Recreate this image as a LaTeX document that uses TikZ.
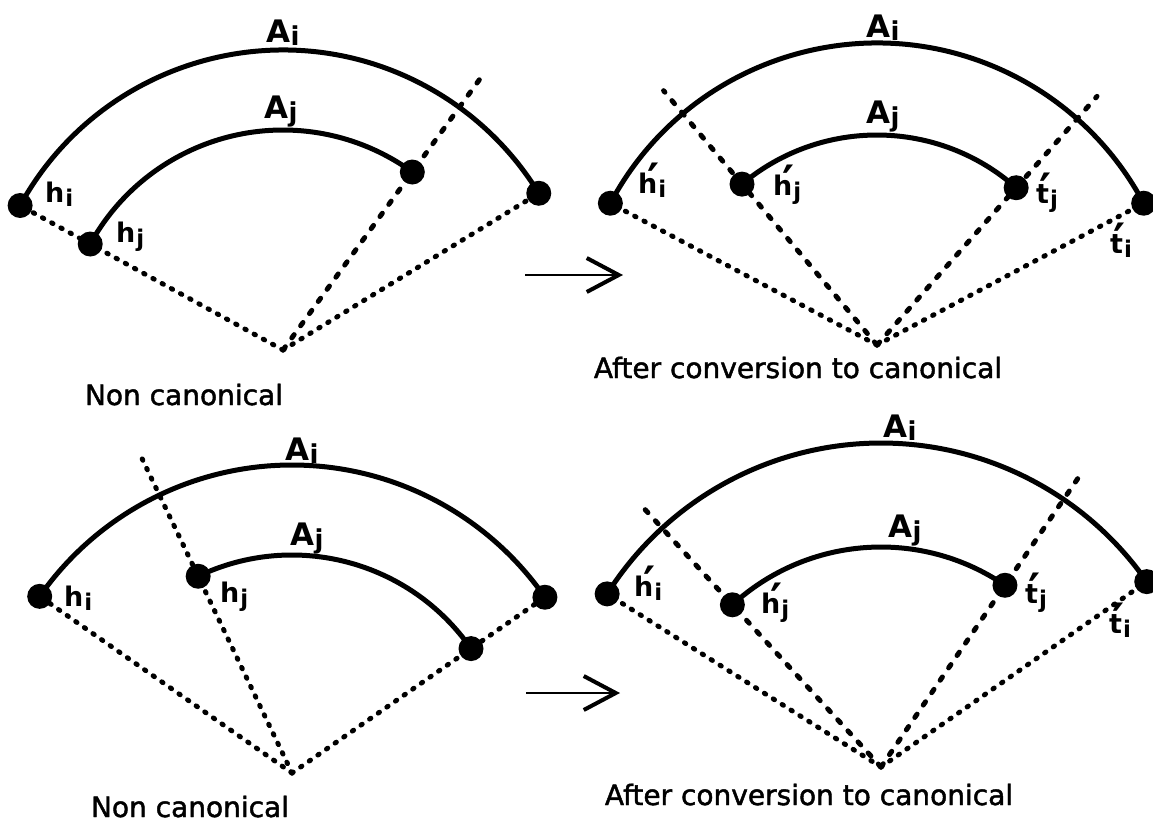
\documentclass[tikz,border=0pt]{standalone}
\usepackage{fontspec}
\setmainfont{DejaVu Sans}
\newfontfamily\capfont[FakeBold=1.6]{DejaVu Sans}
\usetikzlibrary{arrows.meta}
\newcommand\labA[1]{{\fontsize{31}{33}\selectfont A}\kern0.5pt\raisebox{-3pt}{\fontsize{26}{26}\selectfont #1}}
\newcommand\labh[2]{{\fontsize{27}{29}\selectfont #1}\kern1pt\raisebox{-4pt}{\fontsize{23}{23}\selectfont #2}}
\newcommand\labp[2]{{\fontsize{27}{29}\selectfont #1}\rlap{\kern-10pt\raisebox{-3pt}{\fontsize{46}{46}\selectfont ′}}\kern1pt\raisebox{-4pt}{\fontsize{23}{23}\selectfont #2}}
\begin{document}
\begin{tikzpicture}[x=1pt,y=-1pt,
  arcl/.style={line width=5pt,line cap=round},
  dotl/.style={line width=5pt,line cap=round,dash pattern=on 1.5pt off 9pt},
  dashl/.style={line width=5pt,line cap=round,dash pattern=on 4pt off 11pt},
  dotn/.style={circle,fill=black,inner sep=0pt,minimum size=25pt},
  lbl/.style={font=\bfseries,inner sep=0pt,anchor=base west},
  capt/.style={font=\capfont\fontsize{28}{30}\selectfont,inner sep=0pt,anchor=base},
  arr/.style={line width=2pt,-{Straight Barb[length=32pt,width=34pt,line width=4pt]}}]
\useasboundingbox (0,0) rectangle (1153,822);
% ---------- top left ----------
\begin{scope}[shift={(283,350)},yscale=-1]
 \coordinate (a1) at (0,0);
 \coordinate (a1hi) at (151.2:300);
 \coordinate (a1ti) at (31.5:300);
 \coordinate (a1hj) at (151.2:220);
 \coordinate (a1tj) at (54:220);
 \coordinate (a1ex) at (54:335);
 \draw[dotl] (a1) -- (a1hi);
 \draw[dashl] (a1) -- (a1ex);
 \draw[dotl] (a1) -- (a1ti);
 \draw[arcl] (a1hi) arc[start angle=151.2,end angle=31.5,radius=300];
 \draw[arcl] (a1hj) arc[start angle=151.2,end angle=54,radius=220];
 \node[dotn] (d1hi) at (a1hi) {};
 \node[dotn] (d1ti) at (a1ti) {};
 \node[dotn] (d1hj) at (a1hj) {};
 \node[dotn] (d1tj) at (a1tj) {};
\end{scope}
\node[lbl] (l1Ai) at (266,42) {\labA{i}};
\node[lbl] (l1Aj) at (264,118) {\labA{j}};
\node[lbl] (l1hi) at (45,202) {\labh{h}{i}};
\node[lbl] (l1hj) at (116,242) {\labh{h}{j}};
\node[capt] (c1) at (184,405) {Non canonical};
% ---------- top right ----------
\begin{scope}[shift={(877,345)},yscale=-1]
 \coordinate (a2) at (0,0);
 \coordinate (a2hi) at (152:302);
 \coordinate (a2ti) at (28:302);
 \coordinate (a2hj) at (130:210);
 \coordinate (a2tj) at (48.5:210);
 \coordinate (a2exh) at (130:332);
 \coordinate (a2ext) at (48.5:332);
 \draw[dotl] (a2) -- (a2hi);
 \draw[dotl] (a2) -- (a2ti);
 \draw[dashl] (a2) -- (a2exh);
 \draw[dashl] (a2) -- (a2ext);
 \draw[arcl] (a2hi) arc[start angle=152,end angle=28,radius=302];
 \draw[arcl] (a2hj) arc[start angle=130,end angle=48.5,radius=210];
 \node[dotn] (d2hi) at (a2hi) {};
 \node[dotn] (d2ti) at (a2ti) {};
 \node[dotn] (d2hj) at (a2hj) {};
 \node[dotn] (d2tj) at (a2tj) {};
\end{scope}
\node[lbl] (l2Ai) at (866,37) {\labA{i}};
\node[lbl] (l2Aj) at (866,123) {\labA{j}};
\node[lbl] (l2hi) at (638,193) {\labp{h}{i}};
\node[lbl] (l2hj) at (773,195) {\labp{h}{j}};
\node[lbl] (l2tj) at (1036,203) {\labp{t}{j}};
\node[lbl] (l2ti) at (1110,253) {\labp{t}{i}};
\node[capt] (c2) at (798,378) {After conversion to canonical};
% ---------- bottom left ----------
\begin{scope}[shift={(292,773)},yscale=-1]
 \coordinate (a3) at (0,0);
 \coordinate (a3hi) at (145:308);
 \coordinate (a3ti) at (34.8:308);
 \coordinate (a3hj) at (115.5:218);
 \coordinate (a3tj) at (34.8:218);
 \coordinate (a3ex) at (115.5:348);
 \draw[dotl] (a3) -- (a3hi);
 \draw[dotl] (a3) -- (a3ex);
 \draw[dotl] (a3) -- (a3ti);
 \draw[arcl] (a3hi) arc[start angle=145,end angle=34.8,radius=308];
 \draw[arcl] (a3hj) arc[start angle=115.5,end angle=34.8,radius=218];
 \node[dotn] (d3hi) at (a3hi) {};
 \node[dotn] (d3ti) at (a3ti) {};
 \node[dotn] (d3hj) at (a3hj) {};
 \node[dotn] (d3tj) at (a3tj) {};
\end{scope}
\node[lbl] (l3Ai) at (285,460) {\labA{i}};
\node[lbl] (l3Aj) at (290,545) {\labA{j}};
\node[lbl] (l3hi) at (64,606) {\labh{h}{i}};
\node[lbl] (l3hj) at (220,602) {\labh{h}{j}};
\node[capt] (c3) at (190,817) {Non canonical};
% ---------- bottom right ----------
\begin{scope}[shift={(881,767)},yscale=-1]
 \coordinate (a4) at (0,0);
 \coordinate (a4hi) at (147.7:324);
 \coordinate (a4ti) at (34.9:324);
 \coordinate (a4hj) at (132.5:220);
 \coordinate (a4tj) at (55.7:220);
 \coordinate (a4exh) at (132.5:352);
 \coordinate (a4ext) at (55.7:352);
 \draw[dotl] (a4) -- (a4hi);
 \draw[dotl] (a4) -- (a4ti);
 \draw[dashl] (a4) -- (a4exh);
 \draw[dashl] (a4) -- (a4ext);
 \draw[arcl] (a4hi) arc[start angle=147.7,end angle=34.9,radius=324];
 \draw[arcl] (a4hj) arc[start angle=132.5,end angle=55.7,radius=220];
 \node[dotn] (d4hi) at (a4hi) {};
 \node[dotn] (d4ti) at (a4ti) {};
 \node[dotn] (d4hj) at (a4hj) {};
 \node[dotn] (d4tj) at (a4tj) {};
\end{scope}
\node[lbl] (l4Ai) at (883,437) {\labA{i}};
\node[lbl] (l4Aj) at (888,537) {\labA{j}};
\node[lbl] (l4hi) at (634,596) {\labp{h}{i}};
\node[lbl] (l4hj) at (761,613) {\labp{h}{j}};
\node[lbl] (l4tj) at (1025,603) {\labp{t}{j}};
\node[lbl] (l4ti) at (1109,633) {\labp{t}{i}};
\node[capt] (c4) at (809,805) {After conversion to canonical};
% ---------- arrows ----------
\coordinate (r1s) at (525,275);
\coordinate (r1e) at (623,275);
\coordinate (r2s) at (526,693);
\coordinate (r2e) at (620,693);
\draw[arr] (r1s) -- (r1e);
\draw[arr] (r2s) -- (r2e);
\end{tikzpicture}
\end{document}
